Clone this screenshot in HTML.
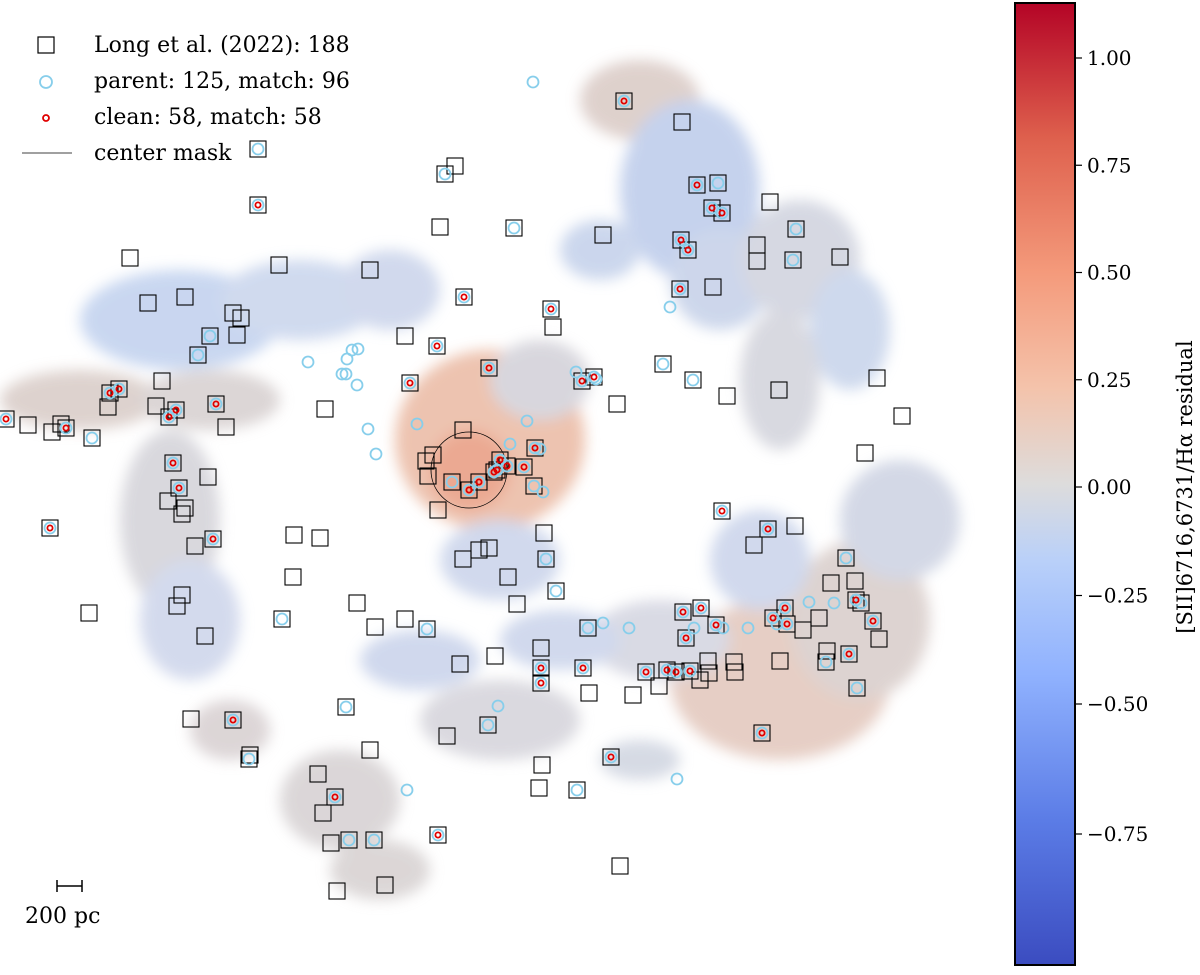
<!DOCTYPE html>
<html><head><meta charset="utf-8"><style>
body{margin:0;background:#fff;width:1200px;height:971px;overflow:hidden;font-family:"DejaVu Serif","Liberation Serif",serif}
svg text{font-family:"DejaVu Serif","Liberation Serif",serif}
</style></head><body>
<svg id="chart" width="1200" height="971" viewBox="0 0 1200 971" xmlns="http://www.w3.org/2000/svg">
<defs>
<filter id="blur" x="-20%" y="-20%" width="140%" height="140%"><feGaussianBlur stdDeviation="7"/></filter>
<linearGradient id="cw" x1="0" y1="1" x2="0" y2="0">
<stop offset="0" stop-color="#3b4cc0"/><stop offset="0.15" stop-color="#5b7ce6"/><stop offset="0.3" stop-color="#8fb1fe"/>
<stop offset="0.42" stop-color="#b9d0f9"/><stop offset="0.5" stop-color="#dddcdc"/><stop offset="0.6" stop-color="#f4c3ab"/>
<stop offset="0.72" stop-color="#f49a7b"/><stop offset="0.86" stop-color="#de604d"/><stop offset="1" stop-color="#b40426"/>
</linearGradient>
</defs>
<g id="blobs" filter="url(#blur)" opacity="0.85"></g>
<g id="marks"></g>
<g>
<rect x="38" y="37" width="16" height="16" fill="none" stroke="#000" stroke-width="1.2"/>
<text x="94" y="52" font-size="22">Long et al. (2022): 188</text>
<circle cx="46" cy="82" r="6" fill="none" stroke="#87ceeb" stroke-width="1.8"/>
<text x="94" y="88" font-size="22">parent: 125, match: 96</text>
<circle cx="46" cy="118" r="3" fill="none" stroke="#e00000" stroke-width="1.8"/>
<text x="94" y="124" font-size="22">clean: 58, match: 58</text>
<line x1="22" y1="153" x2="72" y2="153" stroke="#000" stroke-width="0.8"/>
<text x="94" y="160" font-size="22">center mask</text>
</g>
<g>
<line x1="57" y1="886" x2="82" y2="886" stroke="#000" stroke-width="1.5"/>
<line x1="57" y1="880" x2="57" y2="892" stroke="#000" stroke-width="1.5"/>
<line x1="82" y1="880" x2="82" y2="892" stroke="#000" stroke-width="1.5"/>
<text x="25" y="923" font-size="22">200 pc</text>
</g>
<g>
<rect x="1015" y="3" width="60" height="962" fill="url(#cw)" stroke="#000" stroke-width="2"/>
<g id="cbticks"></g>
<text transform="translate(1192,487) rotate(-90)" text-anchor="middle" font-size="21">[SII]6716,6731/Hα residual</text>
</g>
</svg>
<script>
const cbTickValues=[1.00,0.75,0.50,0.25,0.00,-0.25,-0.50,-0.75];
const cbTickLabels=["1.00","0.75","0.50","0.25","0.00","\u22120.25","\u22120.50","\u22120.75"];
const cleanPts=[[624,101],[697,185],[712,208],[722,213],[681,240],[688,250],[680,289],[258,205],[464,297],[551,309],[437,346],[489,368],[410,383],[110,393],[119,389],[176,410],[169,417],[216,404],[6,419],[66,428],[173,463],[179,488],[213,539],[50,528],[535,448],[500,460],[507,466],[494,472],[479,482],[469,490],[524,467],[582,381],[594,377],[722,511],[768,529],[701,608],[683,612],[716,625],[686,638],[646,672],[667,670],[690,671],[785,608],[787,624],[773,618],[856,600],[873,621],[849,654],[762,733],[611,757],[541,668],[541,683],[583,668],[233,720],[335,797],[438,835],[676,672],[497,470]];
const cyanMatched=[[258,149],[445,174],[514,228],[718,183],[796,229],[793,260],[663,364],[693,380],[92,438],[198,355],[210,336],[546,559],[556,591],[588,628],[846,558],[861,603],[826,662],[857,688],[488,725],[346,707],[427,629],[282,619],[249,759],[577,790],[349,840],[374,840],[534,486],[452,482]];
const cyanOnly=[[533,82],[670,307],[308,362],[358,349],[346,374],[357,385],[347,359],[368,429],[376,454],[417,424],[510,444],[540,449],[543,492],[527,421],[576,372],[596,379],[603,623],[629,628],[694,628],[723,628],[748,628],[777,624],[809,602],[834,603],[498,706],[407,790],[677,779],[342,374],[352,350]];
const squareOnly=[[682,122],[455,166],[440,227],[603,235],[770,202],[757,245],[757,261],[840,257],[713,287],[130,258],[279,265],[370,270],[148,303],[185,297],[233,313],[241,318],[237,335],[405,336],[553,327],[463,430],[162,381],[108,407],[156,406],[226,427],[28,425],[52,432],[61,424],[325,409],[617,404],[727,396],[779,390],[877,378],[902,416],[865,453],[795,526],[754,545],[208,477],[185,508],[168,501],[182,514],[195,546],[294,535],[320,538],[293,577],[357,603],[405,619],[375,627],[463,559],[489,548],[479,550],[508,577],[544,533],[517,604],[541,648],[495,656],[460,664],[447,736],[542,765],[539,788],[589,693],[633,695],[659,686],[700,680],[709,673],[735,672],[708,661],[734,662],[780,661],[827,651],[803,630],[819,618],[855,581],[831,583],[879,639],[182,595],[177,606],[89,613],[205,636],[191,719],[250,755],[318,774],[323,813],[331,843],[385,885],[337,891],[620,866],[370,750],[433,455],[428,476],[438,510],[426,461]];
// map background regions: [cx, cy, rx, ry, colour]
const blobs=[[640,100,60,40,"#d9c9c4"],[690,190,70,90,"#bccbea"],[720,280,50,50,"#c5d0e8"],[800,260,60,60,"#cfd2de"],[850,330,40,60,"#c6d3ea"],[780,380,40,70,"#d2d3db"],[600,250,40,30,"#c3d0ea"],
[80,400,80,30,"#d8cbc6"],[180,320,100,50,"#c0d0ee"],[300,300,80,40,"#c8d4ec"],[390,290,50,40,"#c9d3ea"],[210,400,70,30,"#d6cfcf"],
[170,520,50,90,"#d3d2d8"],[190,620,50,60,"#ccd4ea"],[230,730,40,30,"#d7cfd0"],
[490,440,95,90,"#eab9a3"],[470,470,40,40,"#e89b80"],[500,560,60,40,"#c9d3ea"],[540,380,50,40,"#d2d0d8"],
[340,800,60,50,"#d5d0d2"],[380,870,50,30,"#d6d0d0"],[500,720,80,40,"#d4d3da"],[420,660,60,30,"#c8d2ea"],
[780,680,110,80,"#e2c6bb"],[860,620,70,80,"#d8ccc9"],[900,520,60,60,"#ccd2e2"],[660,640,70,40,"#d3d4e0"],[760,560,50,50,"#c9d3ea"],[560,640,60,30,"#c9d3ea"],[640,760,40,20,"#cfd4e0"]];
const ns="http://www.w3.org/2000/svg";
function mk(tag,attrs,parent){const e=document.createElementNS(ns,tag);for(const k in attrs)e.setAttribute(k,attrs[k]);parent.appendChild(e);return e;}
const bg=document.getElementById('blobs');
blobs.forEach(b=>{const e=mk('ellipse',{cx:b[0],cy:b[1],rx:b[2],ry:b[3],fill:b[4]},bg);

});
const m=document.getElementById('marks');
const c=mk('circle',{cx:469,cy:470,r:38,fill:'none',stroke:'#000','stroke-width':0.8},m);


const sq=squareOnly.concat(cleanPts,cyanMatched);
sq.forEach(p=>{const e=mk('rect',{x:p[0]-8,y:p[1]-8,width:16,height:16,fill:'none',stroke:'#000','stroke-width':1.1},m);

});
cyanOnly.concat(cyanMatched,cleanPts).forEach(p=>{const e=mk('circle',{cx:p[0],cy:p[1],r:5.5,fill:'none',stroke:'#87ceeb','stroke-width':1.8},m);

});
cleanPts.forEach(p=>{const e=mk('circle',{cx:p[0],cy:p[1],r:2.6,fill:'none',stroke:'#e00000','stroke-width':1.8},m);

});
function cy(v){return v>=0?487-v*(487-58):(v>=-0.5?487+(-v)*(704-487)/0.5:704+(-v-0.5)*(834-704)/0.25);}
const ct=document.getElementById('cbticks');
cbTickValues.forEach((v,i)=>{const y=cy(v);
mk('line',{x1:1075,y1:y,x2:1082,y2:y,stroke:'#000','stroke-width':1.2},ct);
const t=mk('text',{x:1087,y:y+7,'font-size':20},ct);t.textContent=cbTickLabels[i];

});
</script>
</body></html>
